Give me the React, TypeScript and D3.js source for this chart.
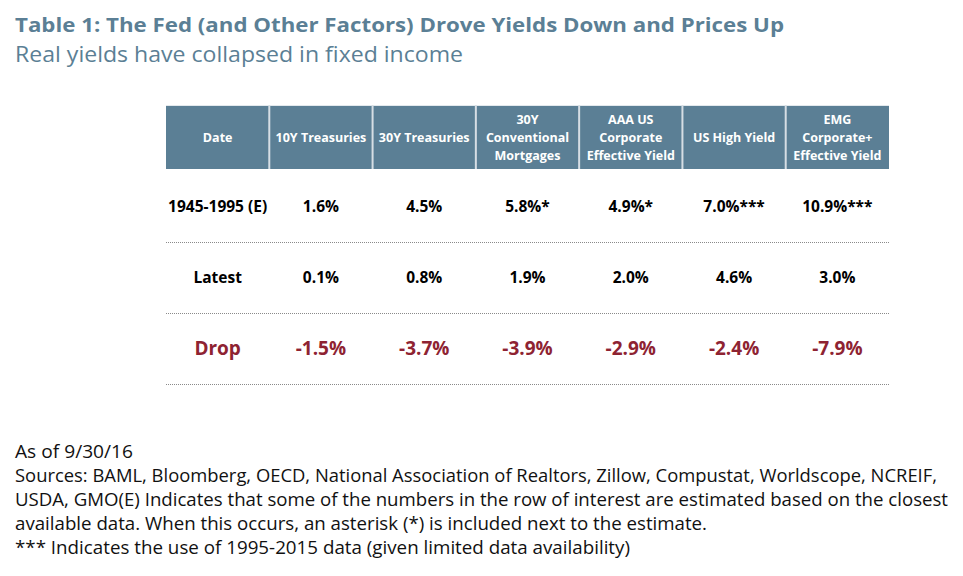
import React from "react";
import * as d3 from "d3";

const headers: string[][] = [
  ["Date"],
  ["10Y Treasuries"],
  ["30Y Treasuries"],
  ["30Y", "Conventional", "Mortgages"],
  ["AAA US", "Corporate", "Effective Yield"],
  ["US High Yield"],
  ["EMG", "Corporate+", "Effective Yield"],
];
const rowLabels = ["1945-1995 (E)", "Latest", "Drop"];
const historical = [1.6, 4.5, 5.8, 4.9, 7.0, 10.9];
const historicalMarks = ["", "", "*", "*", "***", "***"];
const latest = [0.1, 0.8, 1.9, 2.0, 4.6, 3.0];
const drop = [-1.5, -3.7, -3.9, -2.9, -2.4, -7.9];

const title = "Table 1: The Fed (and Other Factors) Drove Yields Down and Prices Up";
const subtitle = "Real yields have collapsed in fixed income";
const notes = [
  "As of 9/30/16",
  "Sources: BAML, Bloomberg, OECD, National Association of Realtors, Zillow, Compustat, Worldscope, NCREIF,",
  "USDA, GMO(E) Indicates that some of the numbers in the row of interest are estimated based on the closest",
  "available data. When this occurs, an asterisk (*) is included next to the estimate.",
  "*** Indicates the use of 1995-2015 data (given limited data availability)",
];
const noteWidths = [118, 922, 933, 692, 615];

const W = 963;
const H = 576;
const FONT = "'Open Sans', 'Noto Sans', sans-serif";
const BLUE = "#5B7F95";
const RED = "#8E2332";

export default function App() {
  const x = d3.scaleBand<number>().domain(d3.range(headers.length)).range([166, 889]).padding(0);
  const y = d3.scaleBand<number>().domain(d3.range(rowLabels.length)).range([171, 384]).padding(0);
  const locale = d3.formatLocale({ decimal: ".", thousands: ",", grouping: [3], currency: ["$", ""], minus: "-" });
  const fmt = locale.format(".1f");
  const rows: { label: string; values: string[]; color: string; size: number }[] = [
    { label: rowLabels[0], values: historical.map((v, i) => fmt(v) + "%" + historicalMarks[i]), color: "#000", size: 15.5 },
    { label: rowLabels[1], values: latest.map((v) => fmt(v) + "%"), color: "#000", size: 15.5 },
    { label: rowLabels[2], values: drop.map((v) => fmt(v) + "%"), color: RED, size: 19 },
  ];
  const headerTop = 105;
  const headerBottom = 169;
  const headerMid = (headerTop + headerBottom) / 2;
  const lineH = 18;

  return (
    <svg width={W} height={H} style={{ position: "absolute", left: 0, top: 0, background: "#fff" }} fontFamily={FONT}>
      <rect x={0} y={0} width={W} height={H} fill="#fff" />
      <text x={15} y={32} fontSize={19.5} fontWeight="bold" fill={BLUE} textLength={769} lengthAdjust="spacingAndGlyphs">
        {title}
      </text>
      <text x={15} y={62} fontSize={21} fill={BLUE} textLength={448} lengthAdjust="spacingAndGlyphs">
        {subtitle}
      </text>

      <rect x={166} y={headerTop} width={889 - 166} height={headerBottom - headerTop} fill={BLUE} />
      <line x1={166} x2={889} y1={headerTop + 0.5} y2={headerTop + 0.5} stroke="#E3E9ED" strokeWidth={1} />
      {headers.map((lines, i) => (
        <g key={"h" + i}>
          {i > 0 && (
            <line x1={x(i)!} x2={x(i)!} y1={headerTop} y2={headerBottom} stroke="#D6DEE4" strokeWidth={2} />
          )}
          {lines.map((ln, j) => (
            <text
              key={j}
              x={x(i)! + x.bandwidth() / 2}
              y={headerMid + (j - (lines.length - 1) / 2) * lineH}
              dy="0.36em"
              textAnchor="middle"
              fontSize={12.5}
              fontWeight="bold"
              fill="#fff"
            >
              {ln}
            </text>
          ))}
        </g>
      ))}

      {rows.map((r, ri) => {
        const cy = y(ri)! + y.bandwidth() / 2;
        return (
          <g key={"r" + ri}>
            <text x={x(0)! + x.bandwidth() / 2} y={cy} dy="0.36em" textAnchor="middle" fontSize={r.size} fontWeight="bold" fill={r.color}>
              {r.label}
            </text>
            {r.values.map((v, ci) => (
              <text
                key={ci}
                x={x(ci + 1)! + x.bandwidth() / 2}
                y={cy}
                dy="0.36em"
                textAnchor="middle"
                fontSize={r.size}
                fontWeight="bold"
                fill={r.color}
              >
                {v}
              </text>
            ))}
            <line
              x1={166}
              x2={889}
              y1={y(ri)! + y.bandwidth() + 0.5}
              y2={y(ri)! + y.bandwidth() + 0.5}
              stroke="#8a8a8a"
              strokeWidth={1}
              strokeDasharray="1,1"
            />
          </g>
        );
      })}

      {notes.map((n, i) => (
        <text
          key={"n" + i}
          x={15}
          y={458 + i * 24}
          fontSize={18}
          fill="#111"
          textLength={noteWidths[i]}
          lengthAdjust="spacingAndGlyphs"
        >
          {n}
        </text>
      ))}
    </svg>
  );
}
